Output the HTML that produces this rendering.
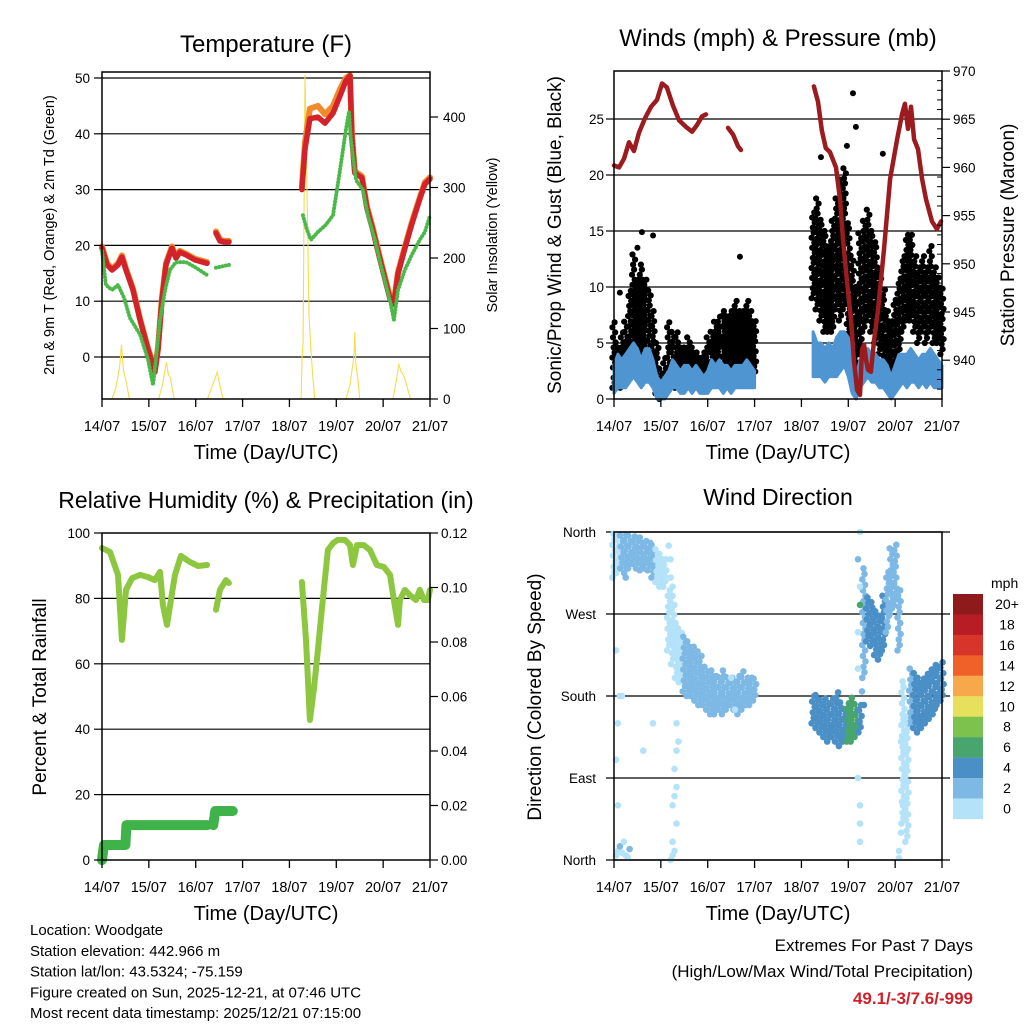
<!DOCTYPE html>
<html><head><meta charset="utf-8"><title>Woodgate weather station, 14/07–21/07</title>
<style>
html,body{margin:0;padding:0;background:#fff;}
svg{display:block;font-family:"Liberation Sans",Arial,sans-serif;}
</style></head>
<body>
<svg id="chart" width="1024" height="1024" viewBox="0 0 1024 1024" xmlns="http://www.w3.org/2000/svg"></svg>
<script>
// ---------- DATA ----------
const dayLabels = ["14/07","15/07","16/07","17/07","18/07","19/07","20/07","21/07"];
const tempT = [0,2.6,5.1,8.2,10.2,12.3,15.9,19.5,23.6,27.1,28.7,30.7,32.8,35.8,37.9,39.9,43,47.6,53.8,56,58.4,60.4,63,65,80,102.4,104,106.5,110.6,114.2,118.3,121.9,124.9,127,128,129.5,133.1,135.7,138.8,142.3,144.9,147.5,149.5,151.6,155.1,158.7,162.8,165.4,168];
const temp2m = [19.5,16.5,15.6,16.5,17.9,15.6,12.0,6.6,1.3,-2.7,1.3,10.2,16.5,19.5,17.7,18.8,18.3,17.4,16.8,null,22.2,20.8,20.6,20.6,null,30,37.3,42.7,43.0,41.9,43.7,46.8,49.5,50.4,39.4,33,32.1,26.7,22.6,17.6,14.0,10.4,9.5,14.9,19.4,23.8,28.3,31,31.9];
const temp9m = [19.8,16.8,15.8,16.8,18.2,15.8,12.2,6.8,1.5,-2.2,1.6,10.5,16.8,19.8,18,19,18.5,17.6,17,null,22.5,21,20.8,20.8,null,30.5,38.5,44.5,45,43.5,45,48,50,50.5,40,33.3,32.4,27,23,17.9,14.3,10.8,9.9,15.2,19.7,24.1,28.6,31.3,32.2];
const tdT = [0,2,5.1,8.2,11.3,14.3,19.5,23.6,26.1,27.6,29.7,32.3,34.8,37.9,43,48.1,53.8,56,58.4,65,80,102.9,105,107,110.6,114.7,118.3,121.9,124.9,126.5,127.5,130.1,133.6,136.2,139.8,142.8,145.4,148,149.5,151.6,155.1,158.7,162.8,165.4,168];
const tdVals = [19,12.9,12,12.9,10.6,7,4,-0.5,-5,-0.5,6.6,12,15.6,17,17,16,14.7,null,16,16.5,null,25.4,22.8,21,22.4,23.7,25.4,33.5,40.7,44,38.9,31.7,30,25.4,21,16.5,12.9,9.3,6.6,12,15.6,18.3,21,22.4,25.4];
const solarT = [5,7,9,10,11,12,13,14,20,29,31,33,34,35,37,45,54,56,58,59,60,62,80,102,102.5,103,104,105,106,107,108,109,115,125,127,128,129,129.5,130,131,132,140,149,151,152,153,154,155,156,158];
const solarV = [0,15,45,77,40,30,15,0,null,0,20,52,35,30,0,null,0,15,30,38,25,0,null,0,60,80,460,300,120,70,30,0,null,0,20,40,60,95,50,30,0,null,0,30,50,40,35,30,20,0];
const windBinT = []; for (let h=0; h<=168; h+=2) windBinT.push(h);
const gustHi = [7,5,6,7,10,13,11,12,11,10,8,5,3,4,7,6,6,5,5,5.5,5,4.5,4,4.5,5.5,6,7,7.5,8,7.5,8,9,8,8,9,8,7, null,null,null,null,null,null,null,null,null,null,null,null,null,null, 17,18,16,15,14,16,18,20,21,16,13,10,15,16,17,15,14,12,10,8,7,9,11,13,15,15,13,12,13,12,14,12,11,10];
const gustLo = [1,1,1,1.5,2,3,3,3,3,2.5,2,0.5,0,0.5,1,1.5,1,1,1,1,1,1,1,1,1,1.5,1.5,1.5,2,2,2,2,2,2,2,2,2, null,null,null,null,null,null,null,null,null,null,null,null,null,null, 9,8,7,6,6,6,8,7,8,4,2,1,4,6,7,6,5,4,3,2,2,3,4,6,7,7,6,5,6,5,6,5,5,4];
const windHi = [3,4,3.5,4,4.5,5,4.5,3.5,4.5,4.5,3.5,2,1.5,2,2.5,3.5,3,2.5,3,3,2.5,3,2.5,2,2.5,3.5,3,3.5,3,3,2.5,3,3,3,3.5,3,2.5, null,null,null,null,null,null,null,null,null,null,null,null,null,null, 6,5,5,4.5,5,4.5,5.5,6,6,5.5,3.5,2,3.5,4,4.5,4,4,3.5,3.5,3,2,3,4,4,4,4.5,4,3.5,4,4,4.5,4,3.5,3];
const windLo = [0.5,1,1,1,1.5,2,1.5,1,1.5,1.5,1,0,0,0,0.5,1,1,0.5,0.5,1,0.5,1,0.5,0.5,0.5,1,1,1,0.5,1,0.5,1,1,1,1,1,1, null,null,null,null,null,null,null,null,null,null,null,null,null,null, 2,2,2,1.5,2,2,2,2.5,3,2,0.5,0,1,1.5,2,1.5,1.5,1,1,0.5,0,0.5,1,1.5,1,1.5,1.5,1,1.5,1,1.5,1,1,1];
const gustOutT = [122.4,123.9,119.3,106,137.7,14.3,20,64.5,3,12];
const gustOutV = [27.3,24.3,22.6,21.6,21.9,14.9,14.6,12.7,9.5,13.5];
const presT = [0,2.6,5.1,7.7,10.2,12.8,15.9,19.0,22.0,24.6,27.1,30.2,33.3,36.9,40.0,42.5,45.1,47.1,55,58.4,61.0,63.5,65.0,80,102.4,104.5,106.5,108.5,110.6,113.7,115.8,117.3,119.3,121.4,122.9,124.5,126.0,127.0,128.1,129.1,130.1,131.6,133.2,135.2,138.3,141.4,145.0,147.5,149.0,150.6,152.1,153.7,155.7,157.8,159.8,162.9,165.4,167.5];
const presV = [960.2,960.0,960.9,962.6,961.7,963.6,965.1,966.3,967.0,968.7,968.3,966.4,964.9,964.2,963.7,964.4,965.3,965.5,null,964.1,963.4,962.2,961.8,null,968.4,966.8,963.8,962.0,961.6,960.0,956.6,952.5,948.3,944.2,940.0,936.9,936.4,941.1,941.6,940.0,939.0,938.8,942.1,945.2,951.5,958.8,962.9,965.5,966.6,964.0,966.3,962.9,961.9,958.8,956.7,954.4,953.6,954.4];
const rhT = [0,4.1,8.2,10.2,12.3,15.4,19.5,23.6,27.1,29.7,31.2,33.3,35.3,37.4,40.4,45.1,49.2,53.8,56,58.4,60.4,63.5,65,80,102.4,104.5,106.5,108.5,110.6,112.6,115.7,118.3,120.8,124.4,127,128.5,130.6,134.1,137.2,140.8,144.4,147.5,149.5,151.6,152.6,155.1,157.7,160.8,162.8,164.9,166.9,168];
const rhV = [95.4,94.2,87.2,67.3,82.6,86.2,87.2,86.5,85.6,88.1,78,71.9,79.5,87.2,93,91.1,89.9,90.2,null,76.5,82.6,85.6,84.7,null,85,67.3,42.8,52,64.2,76.5,94.8,96.9,97.9,97.9,96.3,90.2,96.3,96.3,94.8,90.2,89.6,87.2,79.5,71.9,79.5,82.6,81,79.5,82.6,79.5,79.5,82.6];
const rainT = [0,0.5,1,12,12.5,54,55,57,58,67];
const rainV = [0,0.003,0.0055,0.0055,0.0128,0.0128,null,0.0128,0.018,0.018];
const dirLo = [310,315,320,315,320,325,320,318,320,318,310,305,300,300, 230,215,200,195, 185,180,180,175,170,170,165, 160,160,165,160,165,170,165,160,165,170,170,175, null,null,null,null,null,null,null,null,null,null,null,null,null,null, 150,145,140,135,130,135,130,125,130, 130,130,135,140, 200, 240,235,225,220,230,250,270, 280,230,40,20, 150,145,140,145,150,155,160,170,175];
const dirHi = [360,360,360,360,358,358,355,355,355,352,350,345,340,335, 300,280,260,250, 245,240,235,230,225,215,210, 210,205,205,210,205,205,200,205,210,205,200,200, null,null,null,null,null,null,null,null,null,null,null,null,null,null, 180,185,180,180,175,180,185,175,170, 175,180,175,170, 320, 290,285,275,270,290,320,345, 350,300,200,160, 210,205,200,200,205,210,215,215,220];
const dirSpd = [1,1.5,2,2,3,3.5,3,3,3,2.5,2,1.5,1,1, 1,1,1.5,1.5, 2,2,2,2.5,2.5,2.5,2.5, 2.5,3,3,2.5,2.5,3,3,2.5,2.5,2,2,2, null,null,null,null,null,null,null,null,null,null,null,null,null,null, 4.5,5,4.5,4.5,4,4.5,4,4,4.5, 6.5,6.5,6,4, 3, 4,4.5,4.5,4,4,3.5,3.5, 3,2.5,1,1, 3.5,4,4,4.5,4,4,4.5,4.5,4];
const dirPtT = [28,29,29,30,30,31,30,31,32,31,32,31,30,32,30,31,30,29,33,32,1,2,3,4,6,8,5,7,2,1,2,3,1,4,6,126,125,126,125,125,125,126,126,126,128,127,126,146,147,148,149,148,150,147,149,146,20,15,60,62];
const dirPtD = [345,330,310,290,300,280,260,250,120,100,80,70,60,40,20,10,5,0,130,150,5,10,15,8,5,12,20,3,60,110,150,180,230,180,310,360,330,300,250,210,90,60,40,20,170,185,280,10,30,60,85,100,120,130,150,2,150,120,200,165];
const dirPtS = [1,1,1,1,1,1,1,1,1,1,1,1,1,1,1,1,1,1,1,1,1,1,3,1,1,3,1,1,1,1,1,1,1,1,3,1,3,1,1,1,1,1,1,1,4,3,6,1,1,1,1,1,1,1,1,1,1,1,1,1];
const cbLabels = ["20+","18","16","14","12","10","8","6","4","2","0"];
const cbColors = ["#8e1a1c","#b81c25","#d8352a","#ef6129","#f6a84a","#e6e05c","#7dc24c","#48a56d","#4a8fc6","#7db9e4","#b4e2f8"];
const binColors = ["#b4e2f8","#7db9e4","#4a8fc6","#48a56d","#7dc24c","#e6e05c","#f6a84a","#ef6129","#d8352a","#b81c25","#8e1a1c"];

// ---------- HELPERS ----------
const NS = "http://www.w3.org/2000/svg";
const svg = document.getElementById("chart");
function mk(tag, attrs, parent){ const e=document.createElementNS(NS,tag); for(const k in attrs) e.setAttribute(k,attrs[k]); (parent||svg).appendChild(e); return e; }
function txt(s, attrs, parent){ const e=mk("text",attrs,parent); e.textContent=s; return e; }
function pathD(ts, vs, fx, fy){ let d="", pen=false; for(let i=0;i<ts.length;i++){ if(vs[i]==null){pen=false;continue;} d+=(pen?"L":"M")+fx(ts[i]).toFixed(1)+","+fy(vs[i]).toFixed(1); pen=true; } return d; }

const P1={L:102,R:430,T:72,B:399}, P2={L:614,R:942,T:71,B:399}, P3={L:102,R:430,T:533,B:860}, P4={L:614,R:942,T:532,B:860};
function xS(P){ return t => P.L + t/168*(P.R-P.L); }
const x1=xS(P1), x2=xS(P2), x3=xS(P3), x4=xS(P4);
const yTemp = v => 357 - v*5.58;
const ySol = v => 399 - v*0.705;
const yWind = v => 399 - v*11.2;
const yPres = v => 71 + (970-v)*9.64;
const yRH = v => 860 - v*3.27;
const yRain = v => 860 - v/0.12*327;
const yDir = v => 860 - v/360*328;
const offs = [-0.8,0.3,-0.2,0.8,-0.5,0.6];

function frame(P, g){ const r=mk("rect",{x:P.L,y:P.T,width:P.R-P.L,height:P.B-P.T,fill:"none",stroke:"#000","stroke-width":1.5},g);   }
function xAxis(P, fx, g, labelY){
  for(let d=0; d<8; d++){
    const x=fx(d*24);
    const t=mk("line",{x1:x,x2:x,y1:P.B,y2:P.B+8,stroke:"#000","stroke-width":1.3},g);
    
    
    const l=txt(dayLabels[d],{x:x,y:labelY,"text-anchor":"middle","font-size":14.5},g);
    
    
  }
}
function gridLine(P, y, g, ext){
  const l=mk("line",{x1:P.L-(ext?8:0),x2:P.R+(ext?8:0),y1:y,y2:y,stroke:"#000","stroke-width":1.2},g);
  
  
}
function yTicks(P, vals, fy, labels, side, g, anchorX, fs){
  vals.forEach((v,i)=>{
    const y=fy(v);
    const x0= side==="L"?P.L:P.R;
    const t=mk("line",{x1:x0,x2:side==="L"?x0-8:x0+8,y1:y,y2:y,stroke:"#000","stroke-width":1.2},g);
    
    
    const l=txt(labels[i],{x:anchorX,y:y+5,"text-anchor":side==="L"?"end":"start","font-size":fs||13.5},g);
    
    
  });
}
function rotTitle(s, x, y, size, g){
  return txt(s,{x:x,y:y,"text-anchor":"middle","font-size":size,transform:`rotate(-90 ${x} ${y})`},g);
}

// ---------- PANEL 1 ----------
const g1=mk("g",{});


[0,10,20,30,40,50].forEach(v=>gridLine(P1,yTemp(v),g1,false));
const sol=mk("path",{d:pathD(solarT,solarV,x1,ySol),fill:"none",stroke:"#f7dc4a","stroke-width":1.1},g1);


const t9=mk("path",{d:pathD(tempT,temp9m,x1,yTemp),fill:"none",stroke:"#f08a2c","stroke-width":6,"stroke-linejoin":"round","stroke-linecap":"round"},g1);


const t2=mk("path",{d:pathD(tempT,temp2m,x1,yTemp),fill:"none",stroke:"#d2232a","stroke-width":5.5,"stroke-linejoin":"round","stroke-linecap":"round"},g1);


const td=mk("path",{d:pathD(tdT,tdVals,x1,yTemp),fill:"none",stroke:"#4cb849","stroke-width":4,"stroke-dasharray":"0.1 3.2","stroke-linecap":"round"},g1);


frame(P1,g1);
xAxis(P1,x1,g1,431);
yTicks(P1,[0,10,20,30,40,50],yTemp,["0","10","20","30","40","50"],"L",g1,90);
yTicks(P1,[0,100,200,300,400],ySol,["0","100","200","300","400"],"R",g1,443);
const tt1=txt("Temperature (F)",{x:266,y:52,"text-anchor":"middle","font-size":24},g1);


const xl1=txt("Time (Day/UTC)",{x:266,y:459,"text-anchor":"middle","font-size":20},g1);


const yl1=rotTitle("2m & 9m T (Red, Orange) & 2m Td (Green)",54,235,14.5,g1);


const yr1=rotTitle("Solar Insolation (Yellow)",497,235,14.5,g1);



// ---------- PANEL 2 ----------
const g2=mk("g",{});


[5,10,15,20,25].forEach(v=>gridLine(P2,yWind(v),g2,false));
for(let i=0;i<windBinT.length;i++){
  if(gustHi[i]==null) continue;
  let k=0;
  for(let v=gustLo[i]; v<=gustHi[i]+0.01; v+=0.45, k++){
    const c=mk("circle",{cx:x2(windBinT[i]+offs[k%6]).toFixed(1),cy:yWind(v).toFixed(1),r:3.1,fill:"#000"},g2);
    
    
  }
}
for(let i=0;i<gustOutT.length;i++){
  const c=mk("circle",{cx:x2(gustOutT[i]),cy:yWind(gustOutV[i]),r:3,fill:"#000"},g2);
  
  
}
(function(){
  let segs=[], cur=[];
  for(let i=0;i<windBinT.length;i++){ if(windHi[i]==null){ if(cur.length) segs.push(cur); cur=[]; } else cur.push(i); }
  if(cur.length) segs.push(cur);
  segs.forEach(s=>{
    let d="M"+s.map(i=>x2(windBinT[i]).toFixed(1)+","+yWind(windHi[i]).toFixed(1)).join("L");
    d+="L"+s.slice().reverse().map(i=>x2(windBinT[i]).toFixed(1)+","+yWind(windLo[i]).toFixed(1)).join("L")+"Z";
    const p=mk("path",{d:d,fill:"#4f95d1",stroke:"#4f95d1","stroke-width":3,"stroke-linejoin":"round"},g2);
    
    
  });
})();
const pr=mk("path",{d:pathD(presT,presV,x2,yPres),fill:"none",stroke:"#9b1b1e","stroke-width":4.5,"stroke-linejoin":"round","stroke-linecap":"round"},g2);


frame(P2,g2);
xAxis(P2,x2,g2,431);
yTicks(P2,[0,5,10,15,20,25],yWind,["0","5","10","15","20","25"],"L",g2,604);
yTicks(P2,[940,945,950,955,960,965,970],yPres,["940","945","950","955","960","965","970"],"R",g2,953);
for(let v=937; v<970; v++){ if(v%5===0) continue; const y=yPres(v); const m=mk("line",{x1:P2.R,x2:P2.R-5,y1:y,y2:y,stroke:"#000","stroke-width":1},g2);   }
const tt2=txt("Winds (mph) & Pressure (mb)",{x:778,y:46,"text-anchor":"middle","font-size":24},g2);


const xl2=txt("Time (Day/UTC)",{x:778,y:459,"text-anchor":"middle","font-size":20},g2);


const yl2=rotTitle("Sonic/Prop Wind & Gust (Blue, Black)",561,235,19,g2);


const yr2=rotTitle("Station Pressure (Maroon)",1014,235,19,g2);



// ---------- PANEL 3 ----------
const g3=mk("g",{});


[20,40,60,80].forEach(v=>gridLine(P3,yRH(v),g3,false));
const rh=mk("path",{d:pathD(rhT,rhV,x3,yRH),fill:"none",stroke:"#8dc63f","stroke-width":6,"stroke-linejoin":"round","stroke-linecap":"round"},g3);


const rn=mk("path",{d:pathD(rainT,rainV,x3,yRain),fill:"none",stroke:"#3fb34a","stroke-width":10,"stroke-linejoin":"round","stroke-linecap":"round"},g3);


frame(P3,g3);
xAxis(P3,x3,g3,892);
yTicks(P3,[0,20,40,60,80,100],yRH,["0","20","40","60","80","100"],"L",g3,90);
yTicks(P3,[0,0.02,0.04,0.06,0.08,0.10,0.12],yRain,["0.00","0.02","0.04","0.06","0.08","0.10","0.12"],"R",g3,441);
const tt3=txt("Relative Humidity (%) & Precipitation (in)",{x:266,y:508,"text-anchor":"middle","font-size":23},g3);


const xl3=txt("Time (Day/UTC)",{x:266,y:920,"text-anchor":"middle","font-size":20},g3);


const yl3=rotTitle("Percent & Total Rainfall",46,697,19,g3);



// ---------- PANEL 4 ----------
const g4=mk("g",{});


[0,90,180,270,360].forEach(v=>gridLine(P4,yDir(v),g4,true));
function spdColor(s){ return binColors[Math.min(10,Math.floor(s/2))]; }
for(let i=0;i<windBinT.length;i++){
  if(dirLo[i]==null) continue;
  let k=0;
  for(let d=dirLo[i]; d<=dirHi[i]; d+=6, k++){
    const c=mk("circle",{cx:x4(windBinT[i]+offs[k%6]).toFixed(1),cy:yDir(d).toFixed(1),r:3.3,fill:spdColor(dirSpd[i])},g4);
    
    
  }
}
for(let i=0;i<dirPtT.length;i++){
  const c=mk("circle",{cx:x4(dirPtT[i]).toFixed(1),cy:yDir(dirPtD[i]).toFixed(1),r:3.3,fill:spdColor(dirPtS[i])},g4);
  
  
}
frame(P4,g4);
xAxis(P4,x4,g4,892);
[["North",0],["East",90],["South",180],["West",270],["North",360]].forEach(([s,v])=>{
  const l=txt(s,{x:596,y:yDir(v)+5,"text-anchor":"end","font-size":13.5},g4);
  
  
});
const tt4=txt("Wind Direction",{x:778,y:505,"text-anchor":"middle","font-size":23},g4);


const xl4=txt("Time (Day/UTC)",{x:778,y:920,"text-anchor":"middle","font-size":20},g4);


const yl4=rotTitle("Direction (Colored By Speed)",541,697,19,g4);


const cb=mk("g",{});


const cbT=txt("mph",{x:991,y:588,"font-size":14},cb);


cbLabels.forEach((s,i)=>{
  const y=594+i*20.45;
  const r=mk("rect",{x:953,y:y,width:30,height:20.6,fill:cbColors[i]},cb);
  
  
  const l=txt(s,{x:1007,y:y+15,"text-anchor":"middle","font-size":14},cb);
  
  
});

// ---------- FOOTER ----------
const ft=mk("g",{});


["Location: Woodgate","Station elevation: 442.966 m","Station lat/lon: 43.5324; -75.159","Figure created on Sun, 2025-12-21, at 07:46 UTC","Most recent data timestamp: 2025/12/21 07:15:00"].forEach((s,i)=>{
  const l=txt(s,{x:30,y:935+i*20.8,"font-size":15},ft);
  
  
});
const ex1=txt("Extremes For Past 7 Days",{x:973,y:951,"text-anchor":"end","font-size":17},ft);


const ex2=txt("(High/Low/Max Wind/Total Precipitation)",{x:973,y:977,"text-anchor":"end","font-size":17},ft);


const ex3=txt("49.1/-3/7.6/-999",{x:973,y:1004,"text-anchor":"end","font-size":17,"font-weight":"bold",fill:"#d0202a"},ft);


</script>
</body></html>
